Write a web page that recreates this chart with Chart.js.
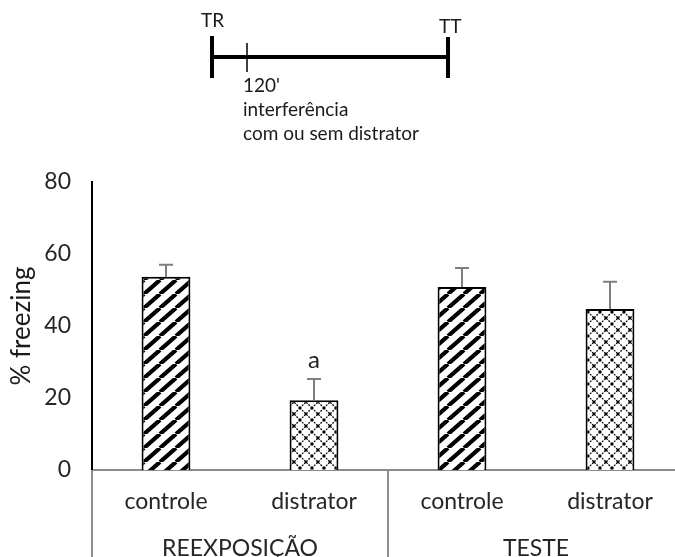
<!DOCTYPE html>
<html>
<head>
<meta charset="utf-8">
<script src="https://cdn.jsdelivr.net/npm/chart.js@4/dist/chart.umd.min.js"></script>
<style>
  html, body { margin: 0; padding: 0; background: #fff; overflow: hidden; width: 675px; height: 557px; }
  #wrap { position: relative; width: 686px; height: 557px; }
  canvas { display: block; }
</style>
</head>
<body>
<div id="wrap"><canvas id="chart" width="686" height="557"></canvas></div>
<script>
// % freezing per condition (mean and upward SEM)
const categories = ['controle', 'distrator', 'controle', 'distrator'];
const groups = ['REEXPOSIÇÃO', 'TESTE'];
const groupOf = [0, 0, 1, 1];
const freezing = [53.7, 19.4, 50.8, 44.7];
const sem = [3.3, 5.9, 5.3, 7.6];
const marks = ['', 'a', '', ''];
const yTicks = [0, 20, 40, 60, 80];

// timeline text
const timeline = { start: 'TR', end: 'TT', step: "120'", note: ['interferência', 'com ou sem distrator'] };

const FONT = 'Lato, "Open Sans", sans-serif';

function stripePattern() {
  const w = 16, h = 14;
  const c = document.createElement('canvas');
  c.width = w; c.height = h;
  const g = c.getContext('2d');
  g.fillStyle = '#fff';
  g.fillRect(0, 0, w, h);
  g.strokeStyle = '#000';
  g.lineWidth = 4.2;
  g.beginPath();
  for (const o of [-1, 0, 1]) {
    g.moveTo(o * w, h);
    g.lineTo(o * w + w, 0);
  }
  g.stroke();
  return g.createPattern(c, 'repeat');
}

function latticePattern() {
  const s = 12;
  const c = document.createElement('canvas');
  c.width = c.height = s;
  const g = c.getContext('2d');
  g.fillStyle = '#fff';
  g.fillRect(0, 0, s, s);
  g.strokeStyle = '#000';
  g.lineWidth = 1.3;
  g.setLineDash([1.8, 1.2]);
  g.beginPath();
  for (const o of [-s, 0, s]) {
    g.moveTo(o, s); g.lineTo(o + s, 0);
    g.moveTo(o, 0); g.lineTo(o + s, s);
  }
  g.stroke();
  g.setLineDash([]);
  g.fillStyle = '#000';
  for (const [px, py] of [[0, 0], [s, 0], [0, s], [s, s], [s / 2, s / 2]]) {
    g.fillRect(px - 1.2, py - 1.2, 2.4, 2.4);
  }
  return g.createPattern(c, 'repeat');
}

const stripes = stripePattern();
const lattice = latticePattern();
const fills = categories.map((c, i) => (i % 2 === 0 ? stripes : lattice));

const extras = {
  id: 'extras',
  afterDatasetsDraw(chart) {
    const { ctx, scales: { x, y } } = chart;
    ctx.save();
    // upward error bars
    ctx.strokeStyle = '#7f7f7f';
    ctx.lineWidth = 2;
    freezing.forEach((v, i) => {
      const px = x.getPixelForValue(i);
      const y0 = y.getPixelForValue(v);
      const y1 = y.getPixelForValue(v + sem[i]);
      ctx.beginPath();
      ctx.moveTo(px, y0);
      ctx.lineTo(px, y1);
      ctx.moveTo(px - 7, y1);
      ctx.lineTo(px + 7, y1);
      ctx.stroke();
      if (marks[i]) {
        ctx.fillStyle = '#222';
        ctx.font = '24px ' + FONT;
        ctx.textAlign = 'center';
        ctx.textBaseline = 'alphabetic';
        ctx.fillText(marks[i], px, y1 - 11);
      }
    });

    // two-level category axis
    const base = chart.chartArea.bottom;
    const bottom = chart.height;
    const bounds = [x.left];
    for (let i = 1; i < categories.length; i++) {
      if (groupOf[i] !== groupOf[i - 1]) {
        bounds.push((x.getPixelForValue(i - 1) + x.getPixelForValue(i)) / 2);
      }
    }
    bounds.push(x.right);
    ctx.strokeStyle = '#8c8c8c';
    ctx.lineWidth = 2;
    ctx.beginPath();
    bounds.forEach(bx => { ctx.moveTo(bx, base); ctx.lineTo(bx, bottom); });
    ctx.stroke();

    ctx.fillStyle = '#262626';
    ctx.font = '23px ' + FONT;
    ctx.textAlign = 'center';
    ctx.textBaseline = 'alphabetic';
    categories.forEach((c, i) => ctx.fillText(c, x.getPixelForValue(i), base + 39));
    groups.forEach((g, k) => ctx.fillText(g, (bounds[k] + bounds[k + 1]) / 2, base + 86));
    ctx.restore();
  },
  afterDraw(chart) {
    // experimental timeline above the plot
    const ctx = chart.ctx;
    ctx.save();
    ctx.strokeStyle = '#000';
    ctx.lineWidth = 4;
    ctx.beginPath();
    ctx.moveTo(212, 57); ctx.lineTo(448, 57);
    ctx.moveTo(212, 36); ctx.lineTo(212, 78);
    ctx.moveTo(448, 37); ctx.lineTo(448, 78);
    ctx.stroke();
    ctx.lineWidth = 1.5;
    ctx.beginPath();
    ctx.moveTo(247, 43); ctx.lineTo(247, 72);
    ctx.stroke();
    ctx.fillStyle = '#1a1a1a';
    ctx.font = '19px ' + FONT;
    ctx.textAlign = 'left';
    ctx.textBaseline = 'alphabetic';
    ctx.fillText(timeline.start, 201, 27);
    ctx.fillText(timeline.end, 439, 33);
    ctx.fillText(timeline.step, 243, 92);
    timeline.note.forEach((t, i) => ctx.fillText(t, 243, 116 + i * 24));
    ctx.restore();
  }
};

new Chart(document.getElementById('chart'), {
  type: 'bar',
  data: {
    labels: categories,
    datasets: [{
      data: freezing,
      backgroundColor: fills,
      borderColor: '#000',
      borderWidth: 2,
      barPercentage: 1,
      categoryPercentage: 0.33
    }]
  },
  options: {
    responsive: false,
    animation: false,
    events: [],
    layout: { padding: { top: 182, left: 0, right: 2, bottom: 0 } },
    plugins: { legend: { display: false }, tooltip: { enabled: false } },
    scales: {
      x: {
        grid: { display: false },
        border: { display: true, color: '#8c8c8c', width: 2 },
        ticks: { display: false },
        afterFit(s) { s.height = 87; }
      },
      y: {
        min: yTicks[0],
        max: yTicks[yTicks.length - 1],
        afterBuildTicks(s) { s.ticks = yTicks.map(v => ({ value: v })); },
        grid: { display: false, drawTicks: false },
        border: { display: true, color: '#000', width: 2 },
        ticks: { color: '#262626', font: { family: FONT, size: 23 }, padding: 21 },
        title: { display: true, text: '% freezing', color: '#1a1a1a', font: { family: FONT, size: 26 }, padding: { top: 6, bottom: 0 } },
        afterFit(s) { s.width = 92; }
      }
    }
  },
  plugins: [extras]
});
</script>
</body>
</html>
